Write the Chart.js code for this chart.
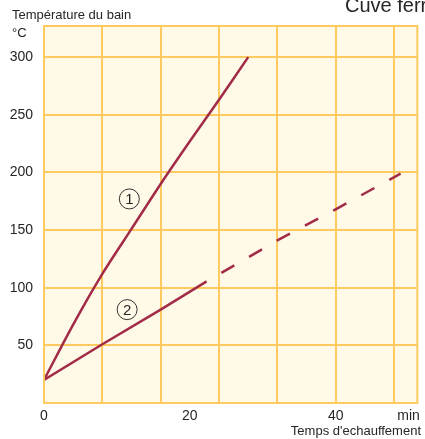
<!DOCTYPE html>
<html>
<head>
<meta charset="utf-8">
<script src="https://cdn.jsdelivr.net/npm/chart.js@4/dist/chart.umd.min.js"></script>
<style>
  html, body { margin: 0; padding: 0; background: #fff; }
  #chart { display: block; }
</style>
</head>
<body>
<canvas id="chart" width="425" height="439"></canvas>
<script>
// curve 1
const line1Time = [0, 4, 8, 12, 16, 20, 24, 28];
const line1Temp = [20, 68, 112, 151, 190, 227, 263, 300];
// curve 2, solid then dashed
const line2Time = [0, 8, 16, 22.3];
const line2Temp = [20, 51, 81, 105.5];
const line2DashTime = [22.3, 32, 40, 48.9];
const line2DashTemp = [105.5, 141, 168, 199];

const xGridTicks = [0, 8, 16, 24, 32, 40, 48];
const xLabelTicks = [0, 20, 40, 50];
const xLabelText = ['0', '20', '40', 'min'];
const yTicks = [0, 50, 100, 150, 200, 250, 300];

const curveNames = ['1', '2'];
const curveNameTime = [11.7, 11.4];
const curveNameTemp = [177, 81];

const lineColor = '#a22b47';
const gridColor = '#ffca5f';
const plotBg = '#fffae8';
const textColor = '#262626';

function toPoints(xs, ys) {
    return xs.map((x, i) => ({ x: x, y: ys[i] }));
}

const framePlugin = {
    id: 'frame',
    beforeDraw(chart) {
        const { ctx, chartArea } = chart;
        ctx.save();
        ctx.fillStyle = plotBg;
        ctx.fillRect(chartArea.left, chartArea.top, chartArea.right - chartArea.left, chartArea.bottom - chartArea.top);
        ctx.restore();
    },
    afterDraw(chart) {
        const { ctx, chartArea, scales } = chart;
        ctx.save();
        ctx.strokeStyle = gridColor;
        ctx.lineWidth = 2;
        ctx.strokeRect(chartArea.left, chartArea.top, chartArea.right - chartArea.left, chartArea.bottom - chartArea.top);

        // curve numbers in circles
        curveNames.forEach((name, i) => {
            const px = scales.x.getPixelForValue(curveNameTime[i]);
            const py = scales.y.getPixelForValue(curveNameTemp[i]);
            ctx.beginPath();
            ctx.arc(px, py, 10, 0, Math.PI * 2);
            ctx.fillStyle = plotBg;
            ctx.fill();
            ctx.strokeStyle = '#333';
            ctx.lineWidth = 1;
            ctx.stroke();
            ctx.fillStyle = textColor;
            ctx.font = '15px "Liberation Sans", Arial, sans-serif';
            ctx.textAlign = 'center';
            ctx.textBaseline = 'middle';
            ctx.fillText(name, px, py + 1);
        });

        // axis titles and heading
        ctx.fillStyle = textColor;
        ctx.textBaseline = 'alphabetic';
        ctx.font = '13px "Liberation Sans", Arial, sans-serif';
        ctx.textAlign = 'left';
        ctx.fillText('Température du bain', 12, 19);
        ctx.fillText('°C', 12, 37);
        ctx.textAlign = 'right';
        ctx.fillText("Temps d'echauffement", 421, 435);
        ctx.textAlign = 'left';
        ctx.font = '20px "Liberation Sans", Arial, sans-serif';
        ctx.fillText('Cuve ferr', 345, 12);
        ctx.restore();
    }
};

new Chart(document.getElementById('chart'), {
    type: 'line',
    data: {
        datasets: [
            {
                data: toPoints(line1Time, line1Temp),
                borderColor: lineColor,
                borderWidth: 2.5,
                pointRadius: 0,
                tension: 0.3
            },
            {
                data: toPoints(line2Time, line2Temp),
                borderColor: lineColor,
                borderWidth: 2.5,
                pointRadius: 0,
                tension: 0
            },
            {
                data: toPoints(line2DashTime, line2DashTemp),
                borderColor: lineColor,
                borderWidth: 2.5,
                borderDash: [15, 17],
                borderDashOffset: 15,
                pointRadius: 0,
                tension: 0
            }
        ]
    },
    options: {
        responsive: false,
        animation: false,
        layout: { padding: { top: 26, right: 4, left: 0, bottom: 0 } },
        plugins: {
            legend: { display: false },
            tooltip: { enabled: false }
        },
        scales: {
            x: {
                type: 'linear',
                min: 0,
                max: 51.2,
                afterBuildTicks: (scale) => {
                    const vals = xGridTicks.concat(xLabelTicks.filter(v => !xGridTicks.includes(v)));
                    vals.sort((a, b) => a - b);
                    scale.ticks = vals.map(v => ({ value: v }));
                },
                afterFit: (scale) => { scale.height = 36; },
                border: { display: false },
                grid: {
                    drawTicks: false,
                    lineWidth: 2,
                    color: (c) => (c.tick && xGridTicks.includes(c.tick.value)) ? gridColor : 'rgba(0,0,0,0)'
                },
                ticks: {
                    padding: 5,
                    autoSkip: false,
                    maxRotation: 0,
                    color: textColor,
                    font: { family: '"Liberation Sans", Arial, sans-serif', size: 14 },
                    callback: (v) => {
                        const i = xLabelTicks.indexOf(v);
                        return i >= 0 ? xLabelText[i] : '';
                    }
                }
            },
            y: {
                min: 0,
                max: 327,
                afterBuildTicks: (scale) => {
                    scale.ticks = yTicks.map(v => ({ value: v }));
                },
                afterFit: (scale) => { scale.width = 44; },
                border: { display: false },
                grid: {
                    drawTicks: false,
                    lineWidth: 2,
                    color: gridColor
                },
                ticks: {
                    padding: 11,
                    color: textColor,
                    font: { family: '"Liberation Sans", Arial, sans-serif', size: 14 },
                    callback: (v) => v === 0 ? '' : String(v)
                }
            }
        }
    },
    plugins: [framePlugin]
});
</script>
</body>
</html>
